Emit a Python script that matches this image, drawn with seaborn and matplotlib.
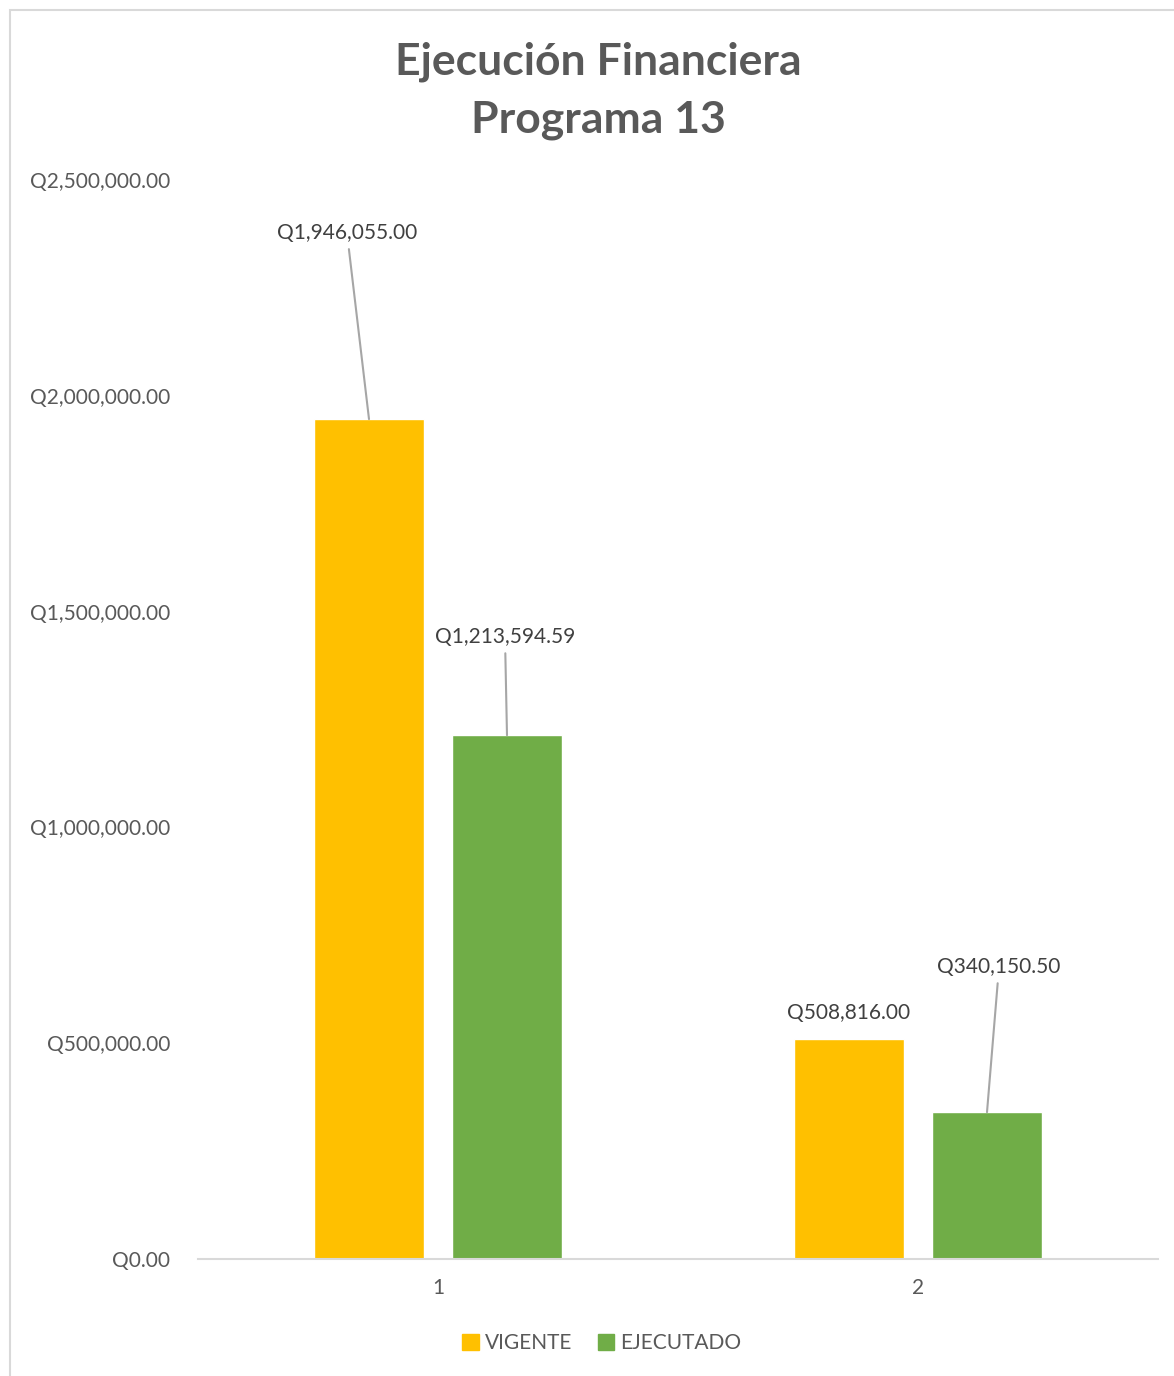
import matplotlib
matplotlib.use("Agg")
import matplotlib.pyplot as plt
import matplotlib.patches as mpatches
import seaborn as sns
import pandas as pd
from matplotlib.ticker import FuncFormatter

categories = ["1", "2"]
series = ["VIGENTE", "EJECUTADO"]
vigente = [1946055.00, 508816.00]
ejecutado = [1213594.59, 340150.50]
colors = ["#FFC000", "#70AD47"]

df = pd.DataFrame({
    "cat": categories * 2,
    "serie": [series[0]] * 2 + [series[1]] * 2,
    "valor": vigente + ejecutado,
})

sns.set_theme(style="white")
plt.rcParams["font.family"] = ["Lato", "DejaVu Sans"]

fig = plt.figure(figsize=(11.74, 13.76), dpi=100)
ax = fig.add_axes([198 / 1174, 1 - 1259 / 1376, 960 / 1174, (1259 - 180) / 1376])

sns.barplot(data=df, x="cat", y="valor", hue="serie", palette=colors,
            width=0.575, gap=0.21, ax=ax, legend=False, saturation=1)

ax.set_ylim(0, 2500000)
ax.set_xlim(-0.5, 1.5)
ax.set_yticks([0, 500000, 1000000, 1500000, 2000000, 2500000])
ax.yaxis.set_major_formatter(FuncFormatter(lambda v, p: f"Q{v:,.2f}"))
ax.set_xlabel("")
ax.set_ylabel("")
for s in ["top", "right", "left"]:
    ax.spines[s].set_visible(False)
ax.spines["bottom"].set_color("#D9D9D9")
ax.spines["bottom"].set_linewidth(1.5)
ax.tick_params(axis="y", length=0, pad=20, labelsize=15, labelcolor="#595959")
ax.tick_params(axis="x", length=0, pad=14, labelsize=15, labelcolor="#595959")
ax.grid(False)

# data labels with leader lines (offsets in pixels)
offsets = {("VIGENTE", "1"): (-22, 186, True), ("EJECUTADO", "1"): (-2, 98, True),
           ("VIGENTE", "2"): (0, 26, False), ("EJECUTADO", "2"): (12, 145, True)}
for container, sname, vals in zip(ax.containers, series, [vigente, ejecutado]):
    for bar, cat, v in zip(container, categories, vals):
        dx, dy, line = offsets[(sname, cat)]
        x = bar.get_x() + bar.get_width() / 2
        ax.annotate(f"Q{v:,.2f}", xy=(x, v), xytext=(dx, dy), textcoords="offset pixels",
                    ha="center", va="center", fontsize=15, color="#404040",
                    arrowprops=dict(arrowstyle="-", color="#A6A6A6", lw=1.5,
                                    shrinkA=2, shrinkB=0) if line else None)

fig.text(598 / 1174, 1 - 62 / 1376, "Ejecución Financiera", ha="center", va="center",
         fontsize=32, fontweight="bold", color="#595959")
fig.text(598 / 1174, 1 - 120 / 1376, "Programa 13", ha="center", va="center",
         fontsize=32, fontweight="bold", color="#595959")

handles = [mpatches.Patch(color=c, label=s) for c, s in zip(colors, series)]
fig.legend(handles=handles, loc="center", bbox_to_anchor=(602 / 1174, 1 - 1343 / 1376),
           ncol=2, frameon=False, fontsize=15, handlelength=0.8, handleheight=0.8,
           handletextpad=0.3, columnspacing=1.2, labelcolor="#595959")

border = mpatches.Rectangle((10 / 1174, -0.05), 1.2, 1 - 10 / 1376 + 0.05,
                            transform=fig.transFigure, fill=False,
                            edgecolor="#D9D9D9", lw=1.5)
fig.patches.append(border)

fig.savefig("out.png", dpi=100)
